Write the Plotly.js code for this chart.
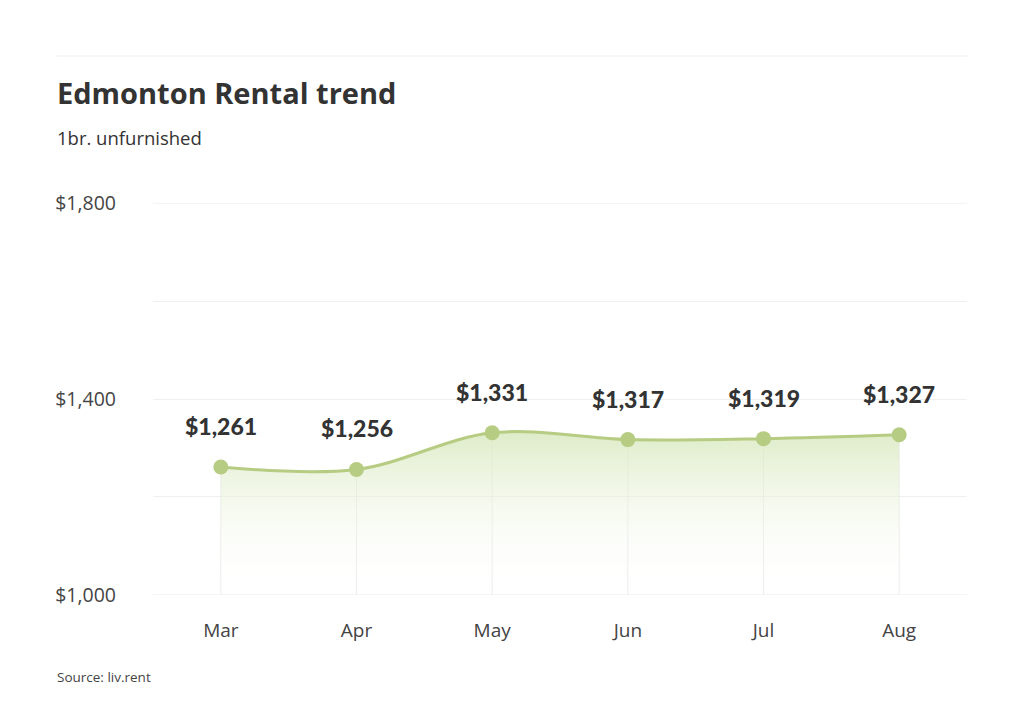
<!DOCTYPE html>
<html>
<head>
<meta charset="utf-8">
<script src="https://cdn.plot.ly/plotly-3.0.1.min.js"></script>
<style>html,body{margin:0;padding:0;background:#fff;}#chart{width:1024px;height:717px;}</style>
</head>
<body>
<div id="chart"></div>
<script>
const months = ["Mar", "Apr", "May", "Jun", "Jul", "Aug"];
const rents = [1261, 1256, 1331, 1317, 1319, 1327];
const yTicks = [1000, 1200, 1400, 1600, 1800];
const yTickLabels = ["$1,000", "", "$1,400", "", "$1,800"];
const yMin = 1000, yMax = 1800;

const fmt = v => "$" + v.toLocaleString("en-US");
const green = "#b6cc82";

const drops = {
  x: months, y: rents, mode: "markers",
  marker: {size: 1, color: "rgba(0,0,0,0)"},
  error_y: {type: "data", symmetric: false, array: rents.map(() => 0),
    arrayminus: rents.map(v => v - yMin), width: 0, thickness: 1, color: "#ececec"},
  hoverinfo: "skip", showlegend: false
};
const baseline = {
  x: months, y: months.map(() => yMin), mode: "lines",
  line: {width: 0, color: "rgba(0,0,0,0)"}, hoverinfo: "skip", showlegend: false
};
const area = {
  x: months, y: rents, mode: "lines+markers",
  line: {shape: "spline", smoothing: 1, color: green, width: 3},
  marker: {size: 15, color: green},
  fill: "tonexty",
  fillgradient: {type: "vertical", colorscale: [[0, "rgba(255,255,255,0)"], [1, "rgba(214,231,186,0.8)"]]},
  showlegend: false
};

// paper coordinate helpers (plot area: x 153..967, y 203..595)
const L = 153, R = 57, T = 203, B = 122;
const plotW = 1024 - L - R, plotH = 717 - T - B;
const px = x => (x - L) / plotW;
const py = y => (717 - B - y) / plotH;

const annotations = months.map((m, i) => ({
  x: m, y: rents[i], xref: "x", yref: "y", text: fmt(rents[i]),
  showarrow: false, yshift: 41, yanchor: "middle",
  font: {family: "Lato", size: 23, color: "#333333", weight: 900}
}));
annotations.push({
  xref: "paper", yref: "paper", x: px(57), y: py(677), xshift: -2,
  xanchor: "left", yanchor: "middle", showarrow: false, text: "Source: liv.rent",
  font: {family: "Open Sans", size: 13.5, color: "#444"}
});
annotations.push({
  xref: "paper", yref: "paper", x: px(57), y: py(137), xshift: -2,
  xanchor: "left", yanchor: "middle", showarrow: false, text: "1br. unfurnished",
  font: {family: "Open Sans", size: 18.5, color: "#333"}
});

const edgeGrid = [yTicks[0], yTicks[yTicks.length - 1]].map(v => ({
  type: "line", xref: "paper", yref: "y", x0: 0, x1: 1, y0: v, y1: v,
  line: {color: "#f0f0f0", width: 1}, layer: "below"
}));

const layout = {
  width: 1024, height: 717,
  margin: {l: L, r: R, t: T, b: B},
  paper_bgcolor: "#fff", plot_bgcolor: "#fff",
  title: {
    text: "<b>Edmonton Rental trend</b>",
    xref: "container", yref: "container", x: 57/1024, y: 1 - 94/717,
    xanchor: "left", yanchor: "middle",
    font: {family: "Open Sans", size: 29, color: "#333"}
  },
  xaxis: {
    type: "category", range: [-0.5, months.length - 0.5],
    showgrid: false, zeroline: false, showline: false,
    ticks: "", ticklabelstandoff: 22, fixedrange: true,
    tickfont: {family: "Open Sans", size: 19, color: "#444"}
  },
  yaxis: {
    range: [yMin - 0.5, yMax + 0.5], tickvals: yTicks, ticktext: yTickLabels,
    showgrid: true, gridcolor: "#f0f0f0", gridwidth: 1,
    zeroline: false, showline: false, ticks: "", ticklabelstandoff: 36,
    tickfont: {family: "Open Sans", size: 19.5, color: "#444"}, fixedrange: true
  },
  shapes: [{
    type: "line", xref: "paper", yref: "paper",
    x0: px(57), x1: px(967), y0: py(56), y1: py(56),
    line: {color: "#eeeeee", width: 1}
  }].concat(edgeGrid),
  annotations: annotations
};

Plotly.newPlot("chart", [drops, baseline, area], layout, {displayModeBar: false, staticPlot: true});
</script>
</body>
</html>
